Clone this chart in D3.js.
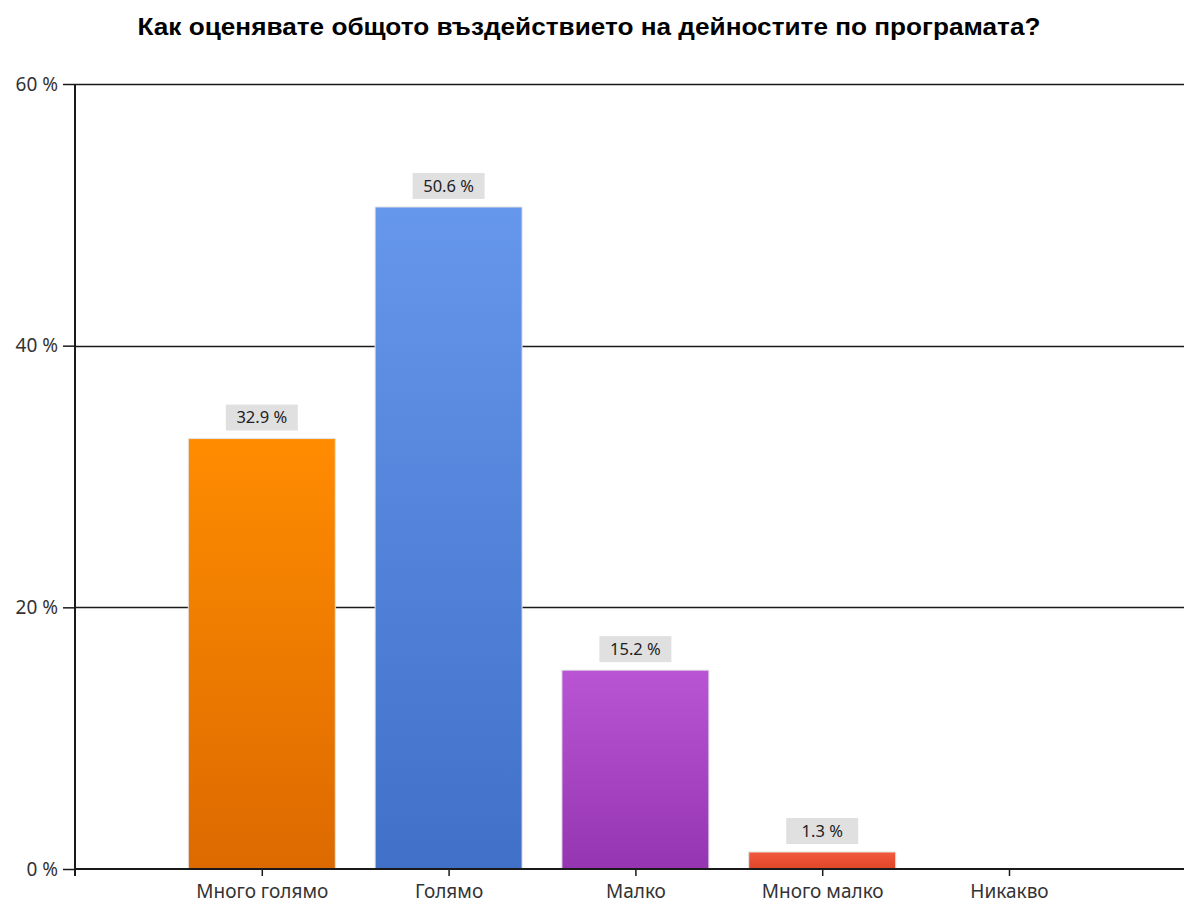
<!DOCTYPE html>
<html>
<head>
<meta charset="utf-8">
<script src="https://cdn.jsdelivr.net/npm/d3@7"></script>
<style>
  body { margin: 0; background: #fff; }
  svg text { font-family: "Noto Sans", "Open Sans", sans-serif; }
</style>
</head>
<body>
<svg width="1184" height="904"></svg>
<script>
// chart data
const categories = ["Много голямо", "Голямо", "Малко", "Много малко", "Никакво"];
const values = [32.9, 50.6, 15.2, 1.3, 0];
const yTicks = [0, 20, 40, 60];
// gradient colours per bar (top, bottom)
const colorsTop = ["#ff8c00", "#6597ec", "#b955d4", "#f15a3e"];
const colorsBottom = ["#dc6a00", "#4070c8", "#9535b1", "#e04628"];

let svg = d3.select("svg"),
  width = +svg.attr("width"),
  height = +svg.attr("height");

let margin = { top: 84, right: 0, bottom: 35, left: 75 };

let x = d3
  .scalePoint()
  .domain(categories)
  .range([margin.left, margin.left + 6 * 186.8])
  .padding(1);

let y = d3
  .scaleLinear()
  .domain([0, 60])
  .range([height - margin.bottom, margin.top]);

let barWidth = 147;

// gradients
let defs = svg.append("defs");
categories.forEach(function (c, i) {
  let g = defs
    .append("linearGradient")
    .attr("id", "grad" + i)
    .attr("x1", 0).attr("y1", 0).attr("x2", 0).attr("y2", 1);
  g.append("stop").attr("offset", "0%").attr("stop-color", colorsTop[i % colorsTop.length]);
  g.append("stop").attr("offset", "100%").attr("stop-color", colorsBottom[i % colorsBottom.length]);
});

// title
svg
  .append("text")
  .attr("x", 589)
  .attr("y", 35)
  .attr("text-anchor", "middle")
  .style("font-family", "'Liberation Sans', Arial, sans-serif")
  .style("font-weight", "bold")
  .style("font-size", "23px")
  .attr("textLength", 903)
  .attr("lengthAdjust", "spacingAndGlyphs")
  .text("Как оценявате общото въздействието на дейностите по програмата?");

// gridlines
svg
  .append("g")
  .selectAll("line")
  .data(yTicks.filter(function (d) { return d > 0; }))
  .enter()
  .append("line")
  .attr("x1", margin.left)
  .attr("x2", width)
  .attr("y1", function (d) { return Math.round(y(d)) + 0.5; })
  .attr("y2", function (d) { return Math.round(y(d)) + 0.5; })
  .attr("stroke", "#1a1a1a")
  .attr("stroke-width", 1.3);

// bars
svg
  .append("g")
  .selectAll("rect")
  .data(values)
  .enter()
  .filter(function (d) { return d > 0; })
  .append("rect")
  .attr("x", function (d, i) { return x(categories[i]) - barWidth / 2; })
  .attr("y", function (d) { return y(d); })
  .attr("width", barWidth)
  .attr("height", function (d) { return y(0) - y(d); })
  .attr("fill", function (d, i) { return "url(#grad" + i + ")"; })
  .attr("stroke", "#e4e4e4")
  .attr("stroke-width", 1);

// value labels
let labels = svg
  .append("g")
  .selectAll("g")
  .data(values)
  .enter()
  .filter(function (d) { return d > 0; })
  .append("g")
  .attr("transform", function (d, i) {
    return "translate(" + x(categories[i]) + "," + (y(d) - 21) + ")";
  });

labels
  .append("rect")
  .attr("x", -36)
  .attr("y", -13)
  .attr("width", 72)
  .attr("height", 26)
  .attr("fill", "#e0e0e0");

labels
  .append("text")
  .attr("text-anchor", "middle")
  .attr("dy", "0.35em")
  .style("font-size", "16.5px")
  .attr("fill", "#222")
  .text(function (d) { return d.toFixed(1) + " %"; });

// y axis
let yAxis = svg
  .append("g")
  .attr("transform", "translate(" + margin.left + ",0)")
  .call(
    d3
      .axisLeft(y)
      .tickValues(yTicks)
      .tickSize(12)
      .tickPadding(5)
      .tickFormat(function (d) { return d + " %"; })
  );

// x axis
let xAxis = svg
  .append("g")
  .attr("transform", "translate(0," + y(0) + ")")
  .call(d3.axisBottom(x).tickSize(7).tickPadding(9).tickSizeOuter(0));

[yAxis, xAxis].forEach(function (a) {
  a.select(".domain").attr("stroke", "#1a1a1a").attr("stroke-width", 2);
  a.selectAll(".tick line").attr("stroke", "#1a1a1a").attr("stroke-width", 1.5);
  a.selectAll(".tick text")
    .attr("fill", "#333")
    .style("font-size", "19px")
    .style("font-family", "'Noto Sans', sans-serif");
});

// extend the x axis line to the right edge, and y axis slightly below
xAxis.select(".domain").attr("d", "M" + margin.left + ",0H" + width);
yAxis.select(".domain").attr("d", "M0," + margin.top + "V" + (y(0) + 7));
</script>
</body>
</html>
